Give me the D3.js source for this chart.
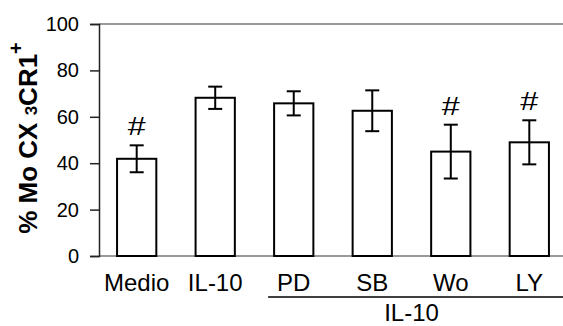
<!DOCTYPE html>
<html>
<head>
<meta charset="utf-8">
<script src="https://cdn.jsdelivr.net/npm/d3@7"></script>
<style>
  body { margin: 0; background: #fff; }
  svg { display: block; font-family: "Liberation Sans", Arial, sans-serif; }
</style>
</head>
<body>
<svg id="chart" width="563" height="326"></svg>
<script>
// chart data
const categories = ["Medio", "IL-10", "PD", "SB", "Wo", "LY"];
const means = [41.9, 68.2, 65.8, 62.6, 45.0, 49.0];
const errors = [5.8, 4.8, 5.2, 8.8, 11.6, 9.5];
const marked = ["Medio", "Wo", "LY"]; // "#" significance marks
const yTicks = [0, 20, 40, 60, 80, 100];
const groupLabel = "IL-10";
const groupMembers = ["PD", "SB", "Wo", "LY"];

const svg = d3.select("#chart");
const W = 563;

const y = d3.scaleLinear().domain([0, 100]).range([256, 24]);
const x = d3.scaleBand()
    .domain(categories)
    .range([99, 567])
    .paddingInner(0.5)
    .paddingOuter(0.23);

// top frame line and baseline (grey)
svg.append("line")
    .attr("x1", 99).attr("x2", W)
    .attr("y1", y(100)).attr("y2", y(100))
    .attr("stroke", "#999").attr("stroke-width", 2);
svg.append("line")
    .attr("x1", 99).attr("x2", W)
    .attr("y1", y(0)).attr("y2", y(0))
    .attr("stroke", "#999").attr("stroke-width", 2);

// y axis
const yAxis = d3.axisLeft(y).tickValues(yTicks).tickSize(9).tickPadding(11);
const ga = svg.append("g").attr("transform", "translate(99,0)").call(yAxis);
ga.attr("font-size", 20).attr("font-family", "'Liberation Sans', Arial, sans-serif");
ga.select(".domain").attr("stroke", "#222").attr("stroke-width", 1.5);
ga.selectAll(".tick line").attr("stroke", "#222").attr("stroke-width", 1.5);
ga.selectAll(".tick text").attr("fill", "#000");

// bars
const data = categories.map((c, i) => ({ cat: c, v: means[i], e: errors[i] }));

svg.append("g").selectAll("rect")
    .data(data)
    .join("rect")
    .attr("x", d => x(d.cat))
    .attr("y", d => y(d.v))
    .attr("width", x.bandwidth())
    .attr("height", d => y(0) - y(d.v))
    .attr("fill", "#fff")
    .attr("stroke", "#000")
    .attr("stroke-width", 2);

// error bars
const cap = 7;
const eb = svg.append("g").attr("stroke", "#000").attr("stroke-width", 2);
data.forEach(d => {
    const cx = x(d.cat) + x.bandwidth() / 2;
    eb.append("line").attr("x1", cx).attr("x2", cx)
        .attr("y1", y(d.v + d.e)).attr("y2", y(d.v - d.e));
    eb.append("line").attr("x1", cx - cap).attr("x2", cx + cap)
        .attr("y1", y(d.v + d.e)).attr("y2", y(d.v + d.e));
    eb.append("line").attr("x1", cx - cap).attr("x2", cx + cap)
        .attr("y1", y(d.v - d.e)).attr("y2", y(d.v - d.e));
});

// significance marks (the # in the source is a bit wider than Arial's)
svg.append("g").selectAll("text")
    .data(data.filter(d => marked.includes(d.cat)))
    .join("text")
    .attr("x", d => x(d.cat) + x.bandwidth() / 2)
    .attr("y", d => y(d.v + d.e) - 10)
    .attr("text-anchor", "middle")
    .attr("font-size", 25)
    .attr("textLength", 18)
    .attr("lengthAdjust", "spacingAndGlyphs")
    .text("#");

// category labels
svg.append("g").selectAll("text")
    .data(categories)
    .join("text")
    .attr("x", d => x(d) + x.bandwidth() / 2)
    .attr("y", 291)
    .attr("text-anchor", "middle")
    .attr("font-size", 24)
    .text(d => d);

// group bracket
const gx0 = x(groupMembers[0]) - 6;
svg.append("line")
    .attr("x1", gx0).attr("x2", W)
    .attr("y1", 297).attr("y2", 297)
    .attr("stroke", "#000").attr("stroke-width", 1.5);
svg.append("text")
    .attr("x", (x("SB") + x("Wo") + x.bandwidth()) / 2)
    .attr("y", 321)
    .attr("text-anchor", "middle")
    .attr("font-size", 24)
    .text(groupLabel);

// y title
const title = svg.append("text")
    .attr("transform", "translate(37,138) rotate(-90)")
    .attr("text-anchor", "middle")
    .attr("font-size", 26)
    .attr("font-weight", "bold");
title.append("tspan").text("% Mo CX ");
title.append("tspan").attr("font-size", 17).text("3");
title.append("tspan").text("CR1");
title.append("tspan").attr("font-size", 20).attr("dy", -14).text("+");
</script>
</body>
</html>
